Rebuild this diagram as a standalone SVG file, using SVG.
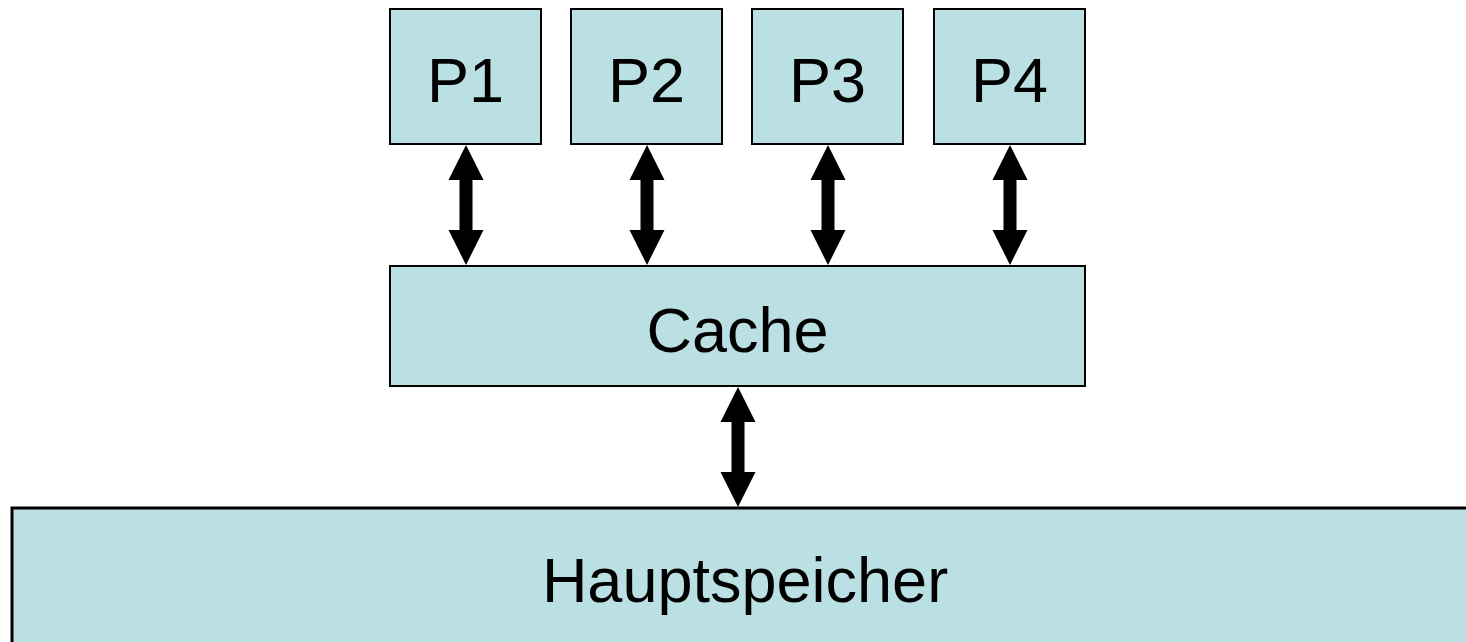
<svg xmlns="http://www.w3.org/2000/svg" width="1466" height="642" viewBox="0 0 1466 642">
  <defs>
    <style>
      .box { fill: #BBE0E3; stroke: #000; stroke-width: 2; }
      .lbl { font-family: "Liberation Sans", Arial, sans-serif; font-size: 63px; fill: #000; text-anchor: middle; }
      .arrow { fill: #000; }
    </style>
    <!-- double-headed block arrow, 120 px long, centred on x=0 -->
    <path id="dbl" d="M0,0 L17.5,35 L6.5,35 L6.5,85 L17.5,85 L0,120 L-17.5,85 L-6.5,85 L-6.5,35 L-17.5,35 Z"/>
  </defs>
  <rect width="1466" height="642" fill="#fff"/>

  <g id="connectors" class="arrow">
    <use href="#dbl" x="466" y="145"/>
    <use href="#dbl" x="647" y="145"/>
    <use href="#dbl" x="828" y="145"/>
    <use href="#dbl" x="1010" y="145"/>
    <use href="#dbl" x="738" y="387"/>
  </g>

  <g id="p1">
    <rect class="box" x="390" y="9" width="151" height="135"/>
    <text class="lbl" x="465.5" y="102">P1</text>
  </g>
  <g id="p2">
    <rect class="box" x="571" y="9" width="151" height="135"/>
    <text class="lbl" x="646.5" y="102">P2</text>
  </g>
  <g id="p3">
    <rect class="box" x="752" y="9" width="151" height="135"/>
    <text class="lbl" x="827.5" y="102">P3</text>
  </g>
  <g id="p4">
    <rect class="box" x="934" y="9" width="151" height="135"/>
    <text class="lbl" x="1009.5" y="102">P4</text>
  </g>
  <g id="cache">
    <rect class="box" x="390" y="266" width="695" height="120"/>
    <text class="lbl" x="737.5" y="352">Cache</text>
  </g>
  <g id="hauptspeicher">
    <rect class="box" x="12" y="508" width="1470" height="150" style="stroke-width:3"/>
    <text class="lbl" x="745" y="602">Hauptspeicher</text>
  </g>
</svg>
